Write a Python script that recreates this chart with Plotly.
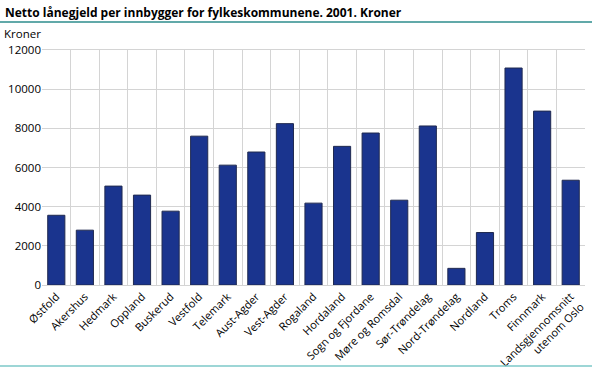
import plotly.graph_objects as go

categories = ["Østfold", "Akershus", "Hedmark", "Oppland", "Buskerud", "Vestfold",
              "Telemark", "Aust-Agder", "Vest-Agder", "Rogaland", "Hordaland",
              "Sogn og Fjordane", "Møre og Romsdal", "Sør-Trøndelag", "Nord-Trøndelag",
              "Nordland", "Troms", "Finnmark", "Landsgjennomsnitt<br>utenom Oslo"]
values = [3560, 2800, 5050, 4590, 3770, 7600, 6120, 6790, 8240, 4180, 7080,
          7760, 4330, 8120, 850, 2680, 11080, 8880, 5350]
y_ticks = [0, 2000, 4000, 6000, 8000, 10000, 12000]
y_ticktext = ["0", "2000", "4000", "6000", "8000", "10000", "12000"]

title = "Netto lånegjeld per innbygger for fylkeskommunene. 2001. Kroner"
y_unit = "Kroner"
FONT = "Open Sans"

W, H = 592, 374
l, r, t, b = 42, 7, 50, 89
pw, ph = W - l - r, H - t - b
def px(x):
    return (x - l) / pw
def py(y):
    return (H - b - y) / ph

fig = go.Figure(go.Bar(
    x=categories, y=values,
    marker=dict(color="#1a348e", line=dict(color="#202a50", width=1)),
    width=0.6,
))

fig.update_layout(
    width=W, height=H,
    margin=dict(l=l, r=r, t=t, b=b, autoexpand=False),
    paper_bgcolor="white", plot_bgcolor="white",
    font=dict(family=FONT, size=12, color="#000"),
    showlegend=False,
    xaxis=dict(tickangle=-45, tickson="boundaries", ticks="", showgrid=True,
               gridcolor="#d4d4d4", gridwidth=1, tickfont=dict(size=11),
               showline=True, linecolor="#d4d4d4", mirror=True, ticklen=0,
               automargin=False),
    yaxis=dict(range=[0, 12000], tickvals=y_ticks, ticktext=y_ticktext,
               showgrid=True, gridcolor="#d4d4d4", gridwidth=1, zeroline=False,
               showline=False, ticks="", tickfont=dict(size=11.5), automargin=False),
    annotations=[
        dict(text="<b>" + title + "</b>", x=px(3), y=py(12), xref="paper", yref="paper",
             showarrow=False, xanchor="left", yanchor="middle",
             font=dict(size=12, family=FONT)),
        dict(text=y_unit, x=px(2), y=py(34), xref="paper", yref="paper",
             showarrow=False, xanchor="left", yanchor="middle",
             font=dict(size=11.5, family=FONT)),
    ],
    shapes=[
        dict(type="line", xref="paper", yref="paper", x0=px(0), x1=px(592),
             y0=py(22), y1=py(22), line=dict(color="#2c8c8c", width=1.5)),
        dict(type="line", xref="paper", yref="paper", x0=px(0), x1=px(592),
             y0=py(366), y1=py(366), line=dict(color="#7cc8c8", width=1.5)),
    ],
)

fig.write_html("out.html", config={"displayModeBar": False},
               post_script="document.body.style.margin='0';document.body.style.overflow='hidden';")
